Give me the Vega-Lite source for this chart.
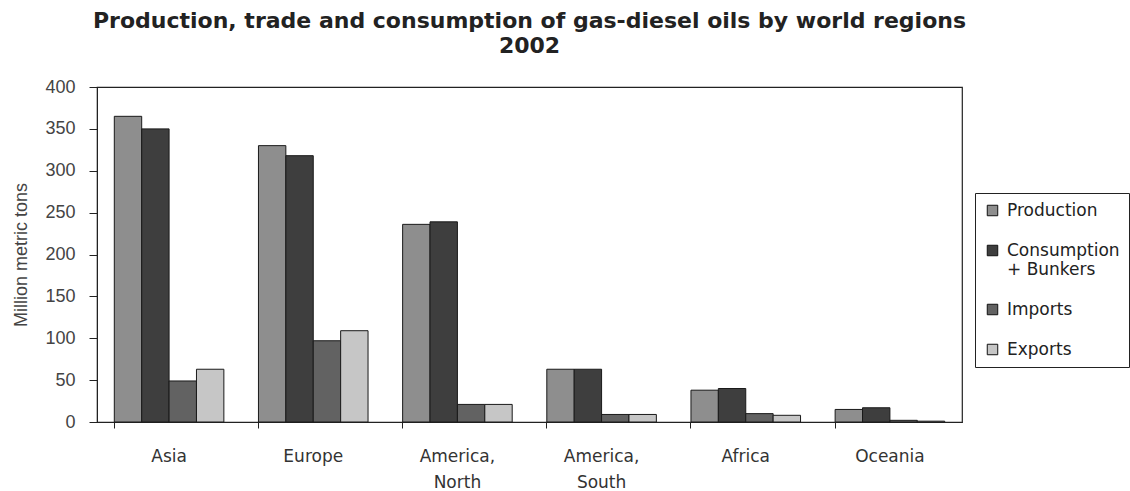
{
  "$schema": "https://vega.github.io/schema/vega-lite/v6.json",
  "autosize": {"type": "none"},
  "width": 865,
  "height": 335,
  "padding": {"left": 97, "top": 87, "right": 168, "bottom": 69},
  "background": "white",
  "title": {
    "text": ["Production, trade and consumption of gas-diesel oils by world regions", "2002"],
    "font": "DejaVu Sans",
    "fontSize": 22,
    "fontWeight": "bold",
    "color": "#222",
    "lineHeight": 25,
    "anchor": "middle",
    "offset": 20
  },
  "data": {
    "values": [
      {"region": "Asia", "series": "Production", "value": 365},
      {"region": "Asia", "series": "Consumption + Bunkers", "value": 350},
      {"region": "Asia", "series": "Imports", "value": 49},
      {"region": "Asia", "series": "Exports", "value": 63},
      {"region": "Europe", "series": "Production", "value": 330},
      {"region": "Europe", "series": "Consumption + Bunkers", "value": 318},
      {"region": "Europe", "series": "Imports", "value": 97},
      {"region": "Europe", "series": "Exports", "value": 109},
      {"region": "America, North", "series": "Production", "value": 236},
      {"region": "America, North", "series": "Consumption + Bunkers", "value": 239},
      {"region": "America, North", "series": "Imports", "value": 21},
      {"region": "America, North", "series": "Exports", "value": 21},
      {"region": "America, South", "series": "Production", "value": 63},
      {"region": "America, South", "series": "Consumption + Bunkers", "value": 63},
      {"region": "America, South", "series": "Imports", "value": 9},
      {"region": "America, South", "series": "Exports", "value": 9},
      {"region": "Africa", "series": "Production", "value": 38},
      {"region": "Africa", "series": "Consumption + Bunkers", "value": 40},
      {"region": "Africa", "series": "Imports", "value": 10},
      {"region": "Africa", "series": "Exports", "value": 8},
      {"region": "Oceania", "series": "Production", "value": 15},
      {"region": "Oceania", "series": "Consumption + Bunkers", "value": 17},
      {"region": "Oceania", "series": "Imports", "value": 2},
      {"region": "Oceania", "series": "Exports", "value": 1}
    ]
  },
  "mark": {"type": "bar", "stroke": "#1a1a1a", "strokeWidth": 1},
  "encoding": {
    "x": {
      "field": "region",
      "type": "nominal",
      "sort": null,
      "scale": {"paddingInner": 0.24, "paddingOuter": 0.12},
      "axis": {
        "title": null,
        "labelAngle": 0,
        "labelExpr": "split(datum.label, ' ')",
        "labelFont": "DejaVu Sans",
        "labelFontSize": 17,
        "labelColor": "#333",
        "labelLineHeight": 26,
        "labelPadding": 20,
        "bandPosition": 0,
        "tickSize": 6,
        "tickColor": "#222",
        "domainColor": "#222"
      }
    },
    "xOffset": {"field": "series", "type": "nominal", "sort": null},
    "y": {
      "field": "value",
      "type": "quantitative",
      "scale": {"domain": [0, 400]},
      "axis": {
        "title": "Million metric tons",
        "titleFont": "Liberation Sans",
        "titleFontSize": 18,
        "titleFontWeight": "normal",
        "titleColor": "#444",
        "titlePadding": 14,
        "values": [0, 50, 100, 150, 200, 250, 300, 350, 400],
        "labelFont": "Liberation Sans",
        "labelFontSize": 18,
        "labelColor": "#444",
        "labelPadding": 14,
        "grid": false,
        "tickSize": 8,
        "tickColor": "#222",
        "domainColor": "#222"
      }
    },
    "fill": {
      "field": "series",
      "type": "nominal",
      "sort": null,
      "scale": {
        "domain": ["Production", "Consumption + Bunkers", "Imports", "Exports"],
        "range": ["#8e8e8e", "#3e3e3e", "#626262", "#c6c6c6"]
      },
      "legend": {
        "title": null,
        "orient": "none",
        "legendX": 878,
        "legendY": 106,
        "labelExpr": "datum.label == 'Consumption + Bunkers' ? ['Consumption', '+ Bunkers'] : datum.label",
        "labelFont": "DejaVu Sans",
        "labelFontSize": 17,
        "labelColor": "#222",
        "labelLineHeight": 25,
        "labelOffset": 6,
        "symbolType": "square",
        "symbolSize": 110,
        "symbolStrokeColor": "#111",
        "symbolStrokeWidth": 1,
        "rowPadding": 22,
        "padding": 9,
        "strokeColor": "#222",
        "labelLimit": 200
      }
    }
  },
  "config": {
    "view": {"stroke": "#222", "strokeWidth": 1.2}
  }
}
